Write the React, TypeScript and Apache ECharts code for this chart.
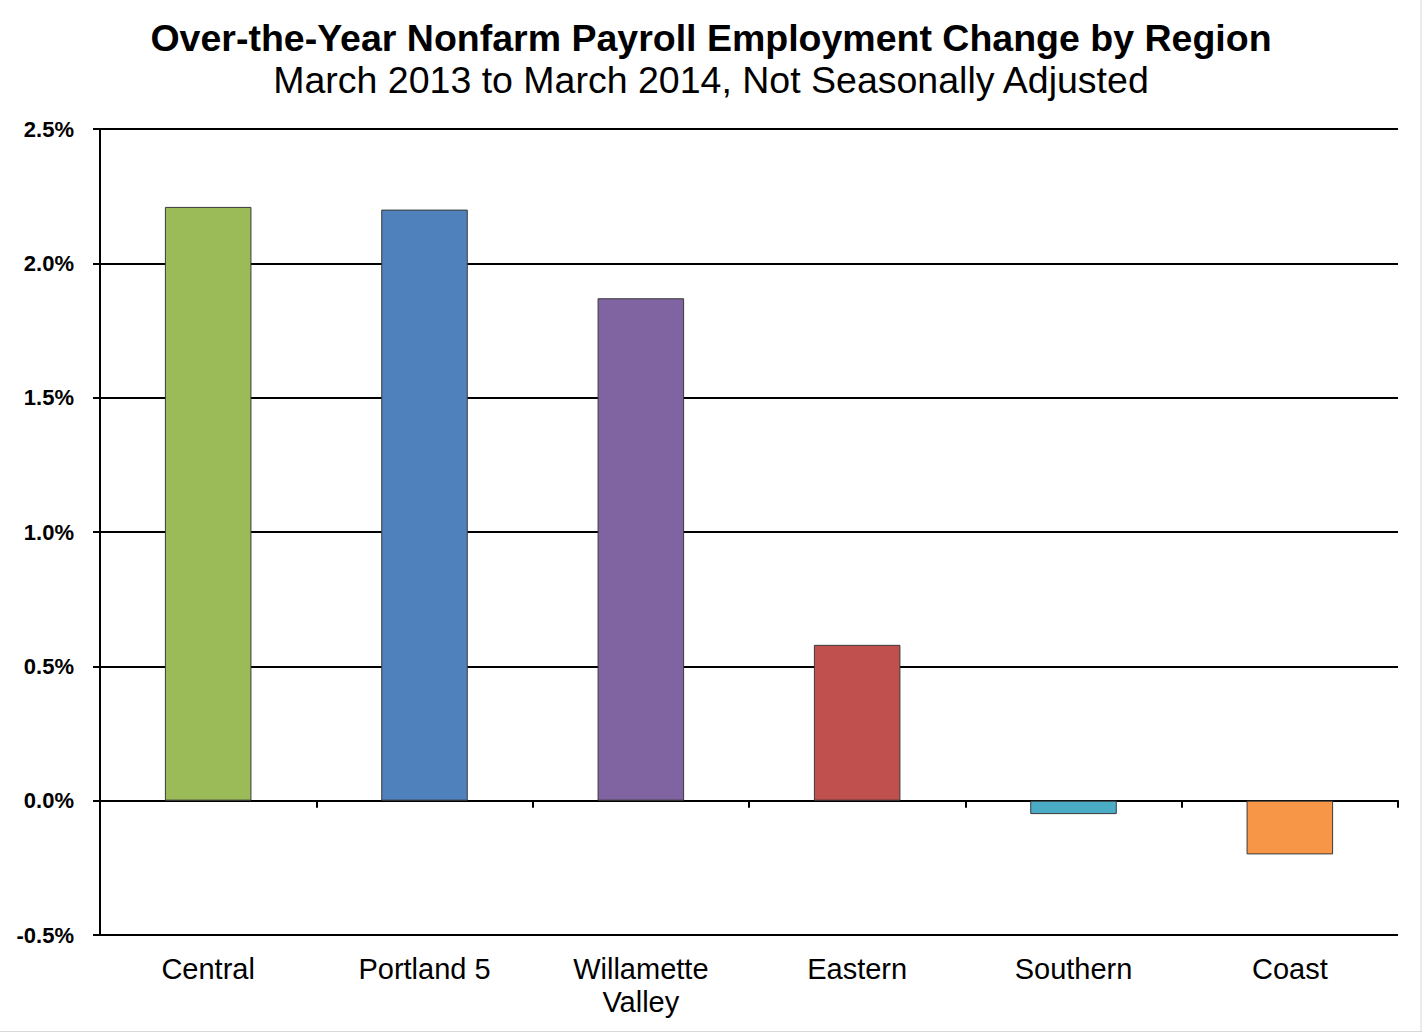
import React, { useEffect, useRef } from "react";
import * as echarts from "echarts";

const categories = ["Central", "Portland 5", "Willamette\nValley", "Eastern", "Southern", "Coast"];
const values = [2.21, 2.2, 1.87, 0.58, -0.05, -0.2];
const barColors = ["#9BBB59", "#4F81BD", "#8064A2", "#C0504D", "#4BACC6", "#F79646"];
const titleText = "Over-the-Year Nonfarm Payroll Employment Change by Region";
const subtitleText = "March 2013 to March 2014, Not Seasonally Adjusted";
const yMin = -0.5;
const yMax = 2.5;
const yStep = 0.5;

const FONT = "Liberation Sans, Arial, sans-serif";

export default function App() {
  const ref = useRef<HTMLDivElement>(null);
  useEffect(() => {
    if (!ref.current) return;
    const chart = echarts.init(ref.current, undefined, { renderer: "svg" });
    chart.setOption({
      animation: false,
      backgroundColor: "#ffffff",
      textStyle: { fontFamily: FONT },
      graphic: [
        {
          type: "text",
          x: 711,
          y: 37.5,
          style: {
            text: titleText,
            fontFamily: FONT,
            fontSize: 37.5,
            fontWeight: "bold",
            fill: "#000",
            align: "center",
            verticalAlign: "middle",
          },
        },
        {
          type: "text",
          x: 711,
          y: 79.5,
          style: {
            text: subtitleText,
            fontFamily: FONT,
            fontSize: 37.5,
            fill: "#000",
            align: "center",
            verticalAlign: "middle",
          },
        },
        {
          type: "line",
          shape: { x1: 1421, y1: 0, x2: 1421, y2: 1032 },
          style: { stroke: "#d9d9d9", lineWidth: 1 },
        },
        {
          type: "line",
          shape: { x1: 0, y1: 1031.5, x2: 1422, y2: 1031.5 },
          style: { stroke: "#d9d9d9", lineWidth: 1 },
        },
      ],
      grid: { left: 100, right: 24, top: 129, bottom: 98, containLabel: false, outerBoundsMode: "none" },
      xAxis: {
        type: "category",
        data: categories,
        axisLine: { show: true, onZero: true, lineStyle: { color: "#000", width: 2 } },
        axisTick: { show: true, length: 7, lineStyle: { color: "#000", width: 2 } },
        axisLabel: {
          show: true,
          margin: 17,
          fontFamily: FONT,
          fontSize: 29,
          color: "#000",
          lineHeight: 33,
          interval: 0,
        },
        splitLine: { show: false },
      },
      yAxis: {
        type: "value",
        min: yMin,
        max: yMax,
        interval: yStep,
        axisLine: { show: true, lineStyle: { color: "#000", width: 2 } },
        axisTick: { show: true, length: 7, lineStyle: { color: "#000", width: 2 } },
        axisLabel: {
          margin: 26,
          fontFamily: FONT,
          fontSize: 22,
          fontWeight: "bold",
          color: "#000",
          formatter: (v: number) => v.toFixed(1) + "%",
        },
        splitLine: { show: true, lineStyle: { color: "#000", width: 2 } },
      },
      series: [
        {
          type: "bar",
          data: values.map((v, i) => ({
            value: v,
            itemStyle: { color: barColors[i], borderColor: "#3a3a3a", borderWidth: 1 },
          })),
          barWidth: "40%",
        },
      ],
    });
    return () => chart.dispose();
  }, []);
  return (
    <div
      ref={ref}
      style={{ position: "fixed", left: 0, top: 0, width: 1422, height: 1033 }}
    />
  );
}
